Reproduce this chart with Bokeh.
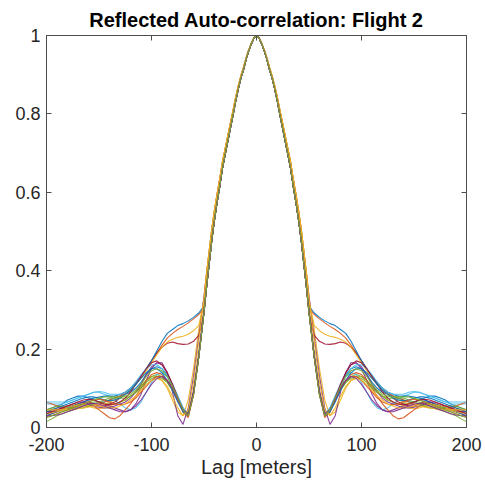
from bokeh.plotting import figure
from bokeh.models import Range1d, LinearAxis, FixedTicker
from bokeh.embed import file_html
from bokeh.resources import INLINE

# lags (meters) at which each reflected auto-correlation curve is sampled (one side)
core_lags = [0, 2.5, 5, 7.5, 10, 12.5, 15, 17.5, 20, 22.5, 25, 27.5, 30, 32.5, 35, 37.5, 40, 42.5, 45, 47.5]
tail_lags = [50, 55, 60, 65, 70, 75, 80, 85, 90, 95, 100, 105, 110, 115, 120, 125,
             130, 135, 140, 145, 150, 155, 160, 165, 170, 175, 180, 185, 190, 195, 200]

# main lobe (shared by nearly all curves) and a slightly wider variant
core = [1.0, 0.993, 0.978, 0.96, 0.938, 0.912, 0.89, 0.862, 0.83, 0.795,
        0.762, 0.728, 0.695, 0.66, 0.615, 0.575, 0.53, 0.48, 0.42, 0.36]
core_wide = [1.0, 0.994, 0.98, 0.963, 0.942, 0.918, 0.896, 0.87, 0.84, 0.807,
             0.775, 0.742, 0.71, 0.677, 0.635, 0.597, 0.555, 0.508, 0.452, 0.395]

# side-lobe / tail values of each curve (lags 50..200)
t01 = [0.295, 0.18, 0.085, 0.03, 0.05, 0.08, 0.11, 0.135, 0.15, 0.155, 0.15, 0.135, 0.115, 0.10, 0.09, 0.085,
       0.08, 0.075, 0.07, 0.065, 0.065, 0.07, 0.075, 0.08, 0.08, 0.075, 0.07, 0.06, 0.055, 0.05, 0.045]
t02 = [0.305, 0.288, 0.277, 0.267, 0.258, 0.25, 0.24, 0.228, 0.21, 0.19, 0.17, 0.15, 0.13, 0.115, 0.10, 0.09,
       0.08, 0.075, 0.07, 0.065, 0.06, 0.058, 0.055, 0.055, 0.055, 0.055, 0.055, 0.055, 0.05, 0.045, 0.04]
t03 = [0.33, 0.25, 0.15, 0.07, 0.03, 0.04, 0.07, 0.10, 0.12, 0.13, 0.13, 0.12, 0.105, 0.09, 0.08, 0.07,
       0.065, 0.06, 0.055, 0.05, 0.048, 0.05, 0.055, 0.06, 0.06, 0.06, 0.055, 0.05, 0.045, 0.04, 0.035]
t04 = [0.335, 0.23, 0.13, 0.05, 0.008, 0.03, 0.09, 0.14, 0.165, 0.165, 0.15, 0.12, 0.085, 0.06, 0.045, 0.04,
       0.045, 0.05, 0.055, 0.06, 0.065, 0.07, 0.07, 0.065, 0.06, 0.055, 0.05, 0.045, 0.04, 0.04, 0.04]
t05 = [0.295, 0.18, 0.088, 0.035, 0.045, 0.07, 0.095, 0.115, 0.13, 0.135, 0.13, 0.12, 0.105, 0.09, 0.08, 0.07,
       0.065, 0.06, 0.06, 0.062, 0.065, 0.065, 0.06, 0.055, 0.05, 0.045, 0.04, 0.035, 0.03, 0.022, 0.015]
t06 = [0.295, 0.18, 0.088, 0.035, 0.05, 0.08, 0.11, 0.13, 0.14, 0.135, 0.115, 0.09, 0.065, 0.05, 0.045, 0.05,
       0.06, 0.07, 0.08, 0.085, 0.09, 0.09, 0.085, 0.08, 0.075, 0.07, 0.065, 0.06, 0.06, 0.06, 0.06]
t07 = [0.29, 0.235, 0.22, 0.213, 0.212, 0.214, 0.218, 0.215, 0.205, 0.19, 0.17, 0.15, 0.13, 0.11, 0.095, 0.085,
       0.075, 0.065, 0.06, 0.055, 0.055, 0.06, 0.065, 0.065, 0.06, 0.055, 0.05, 0.045, 0.04, 0.035, 0.03]
t08 = [0.31, 0.292, 0.281, 0.272, 0.265, 0.26, 0.25, 0.24, 0.22, 0.195, 0.17, 0.15, 0.13, 0.115, 0.10, 0.09,
       0.085, 0.08, 0.08, 0.08, 0.078, 0.075, 0.07, 0.065, 0.06, 0.055, 0.05, 0.045, 0.04, 0.035, 0.03]
t09 = [0.295, 0.18, 0.083, 0.025, 0.04, 0.07, 0.10, 0.12, 0.135, 0.14, 0.135, 0.12, 0.10, 0.08, 0.06, 0.045,
       0.03, 0.022, 0.025, 0.035, 0.045, 0.055, 0.06, 0.06, 0.055, 0.05, 0.048, 0.05, 0.055, 0.06, 0.065]
t10 = [0.32, 0.26, 0.247, 0.238, 0.233, 0.23, 0.225, 0.218, 0.205, 0.185, 0.165, 0.145, 0.125, 0.11, 0.095, 0.085,
       0.075, 0.07, 0.065, 0.06, 0.058, 0.058, 0.06, 0.06, 0.058, 0.055, 0.05, 0.045, 0.04, 0.038, 0.035]
t11 = [0.3, 0.19, 0.095, 0.035, 0.04, 0.075, 0.11, 0.14, 0.16, 0.165, 0.155, 0.135, 0.11, 0.09, 0.075, 0.065,
       0.06, 0.055, 0.05, 0.05, 0.052, 0.055, 0.06, 0.065, 0.065, 0.06, 0.055, 0.05, 0.045, 0.04, 0.04]
t12 = [0.295, 0.182, 0.088, 0.035, 0.045, 0.07, 0.095, 0.115, 0.125, 0.13, 0.125, 0.115, 0.10, 0.09, 0.08, 0.075,
       0.075, 0.075, 0.075, 0.07, 0.065, 0.06, 0.055, 0.05, 0.05, 0.05, 0.052, 0.055, 0.055, 0.05, 0.045]
t13 = [0.293, 0.178, 0.083, 0.03, 0.045, 0.075, 0.105, 0.13, 0.15, 0.16, 0.16, 0.15, 0.135, 0.115, 0.10, 0.09,
       0.085, 0.085, 0.085, 0.09, 0.092, 0.09, 0.085, 0.08, 0.075, 0.07, 0.065, 0.065, 0.065, 0.065, 0.065]
t14 = [0.295, 0.18, 0.087, 0.03, 0.045, 0.075, 0.11, 0.14, 0.16, 0.17, 0.165, 0.15, 0.13, 0.11, 0.09, 0.075,
       0.065, 0.06, 0.058, 0.06, 0.065, 0.07, 0.072, 0.07, 0.065, 0.06, 0.055, 0.05, 0.045, 0.04, 0.035]
t15 = [0.295, 0.18, 0.087, 0.03, 0.04, 0.065, 0.095, 0.12, 0.14, 0.15, 0.15, 0.14, 0.125, 0.11, 0.095, 0.085,
       0.075, 0.07, 0.068, 0.07, 0.075, 0.078, 0.078, 0.075, 0.07, 0.065, 0.06, 0.055, 0.05, 0.045, 0.04]
t16 = [0.293, 0.178, 0.083, 0.03, 0.045, 0.075, 0.10, 0.12, 0.13, 0.13, 0.12, 0.105, 0.09, 0.075, 0.065, 0.06,
       0.058, 0.06, 0.065, 0.07, 0.072, 0.07, 0.065, 0.06, 0.055, 0.05, 0.045, 0.04, 0.035, 0.03, 0.028]
t17 = [0.33, 0.22, 0.115, 0.045, 0.03, 0.05, 0.08, 0.105, 0.12, 0.125, 0.12, 0.11, 0.095, 0.08, 0.07, 0.06,
       0.055, 0.05, 0.05, 0.052, 0.055, 0.055, 0.052, 0.05, 0.048, 0.045, 0.045, 0.045, 0.045, 0.045, 0.045]
t18 = [0.297, 0.182, 0.09, 0.035, 0.045, 0.07, 0.10, 0.12, 0.13, 0.125, 0.11, 0.09, 0.07, 0.055, 0.045, 0.04,
       0.04, 0.045, 0.05, 0.055, 0.06, 0.062, 0.06, 0.055, 0.05, 0.045, 0.04, 0.035, 0.032, 0.03, 0.03]
t19 = [0.293, 0.178, 0.083, 0.03, 0.045, 0.075, 0.105, 0.13, 0.145, 0.15, 0.145, 0.13, 0.11, 0.095, 0.085, 0.08,
       0.078, 0.078, 0.078, 0.078, 0.075, 0.07, 0.065, 0.06, 0.055, 0.05, 0.045, 0.04, 0.035, 0.03, 0.025]

tails = [t01, t02, t03, t04, t05, t06, t07, t08, t09, t10, t11, t12, t13, t14, t15, t16, t17, t18, t19]
wide = [False, False, True, True, False, False, False, False, False, True,
        False, False, False, False, False, False, True, False, False]

colors = ["#0072BD", "#D95319", "#EDB120", "#7E2F8E", "#77AC30", "#4DBEEE", "#A2142F"]

x_ticks = [-200, -100, 0, 100, 200]
y_ticks = [0, 0.2, 0.4, 0.6, 0.8, 1]

FONT = "Liberation Sans"
AX = "#4d4d4d"
TXT = "#262626"

p = figure(width=485, height=485, output_backend="svg", toolbar_location=None,
           x_range=Range1d(-200, 200), y_range=Range1d(0, 1),
           min_border_left=46, min_border_right=19, min_border_top=35, min_border_bottom=58)

p.title.text = "Reflected Auto-correlation: Flight 2"
p.title.align = "center"
p.title.text_font = FONT
p.title.text_font_size = "20px"
p.title.text_font_style = "bold"
p.title.text_color = "#000000"
p.title.standoff = 10
p.title.offset = 0

p.xgrid.visible = False
p.ygrid.visible = False
p.background_fill_color = "white"
p.border_fill_color = "white"
p.outline_line_color = AX
p.outline_line_width = 1

lags_full = [-l for l in reversed(tail_lags)] + [-l for l in reversed(core_lags[1:])] + core_lags + tail_lags

for i, tail in enumerate(tails):
    side = (core_wide if wide[i] else core) + tail
    yvals = list(reversed(side[1:])) + side
    p.line(lags_full, yvals, line_color=colors[i % len(colors)], line_width=1.1, line_alpha=0.9)

def style_axis(ax, ticks, show_labels):
    ax.ticker = FixedTicker(ticks=ticks)
    ax.axis_line_color = AX
    ax.axis_line_width = 1
    ax.major_tick_line_color = AX
    ax.major_tick_in = 5
    ax.major_tick_out = 0
    ax.minor_tick_line_color = None
    ax.major_label_text_font = FONT
    if show_labels:
        ax.major_label_text_color = TXT
        ax.major_label_text_font_size = "18px"
    else:
        ax.major_label_text_color = None
        ax.major_label_standoff = 0

style_axis(p.xaxis[0], x_ticks, True)
style_axis(p.yaxis[0], y_ticks, True)
p.xaxis[0].major_label_standoff = 10
p.yaxis[0].major_label_standoff = 6
p.xaxis[0].major_label_overrides = {-200: "-200", -100: "-100", 0: "0", 100: "100", 200: "200"}
p.yaxis[0].major_label_overrides = {0: "0", 0.2: "0.2", 0.4: "0.4", 0.6: "0.6", 0.8: "0.8", 1: "1"}
p.xaxis[0].axis_label = "Lag [meters]"
p.xaxis[0].axis_label_text_font = FONT
p.xaxis[0].axis_label_text_font_size = "20px"
p.xaxis[0].axis_label_text_font_style = "normal"
p.xaxis[0].axis_label_text_color = TXT
p.xaxis[0].axis_label_standoff = 2

top_ax = LinearAxis()
right_ax = LinearAxis()
style_axis(top_ax, x_ticks, False)
style_axis(right_ax, y_ticks, False)
p.add_layout(top_ax, "above")
p.add_layout(right_ax, "right")

open("out.html", "w").write(file_html(p, INLINE))
